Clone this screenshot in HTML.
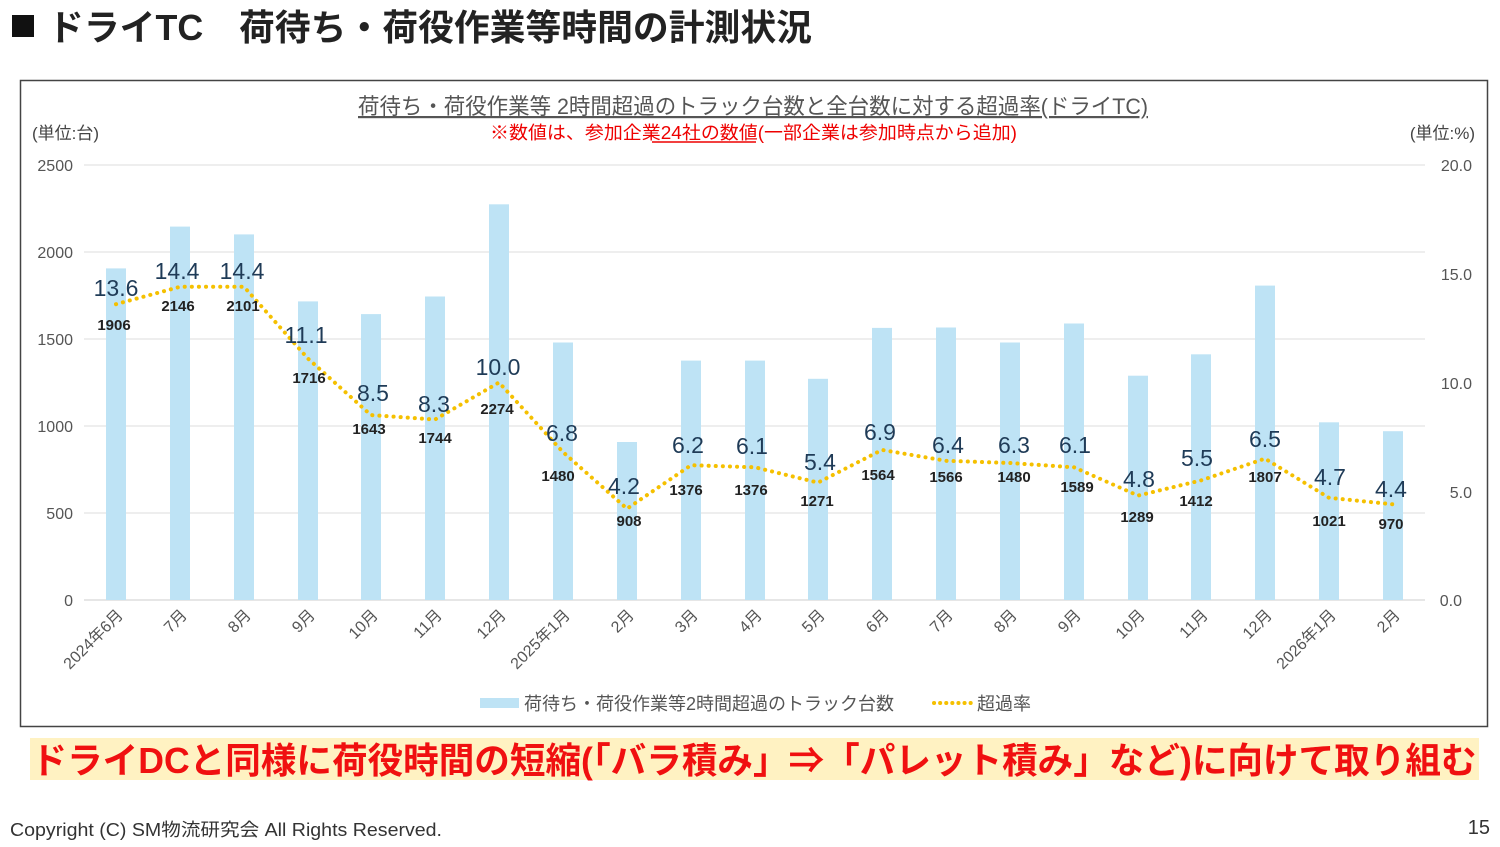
<!DOCTYPE html>
<html><head><meta charset="utf-8"><style>
body{margin:0;background:#fff;width:1500px;height:842px;overflow:hidden;font-family:"Liberation Sans","Noto Sans CJK JP",sans-serif}
</style></head><body>
<svg width="1500" height="842" xmlns="http://www.w3.org/2000/svg" font-family="'Liberation Sans','Noto Sans CJK JP',sans-serif">
<rect x="12" y="15" width="22" height="22" fill="#111"/>
<text x="48" y="40" font-size="36" font-weight="bold" fill="#222" textLength="764" lengthAdjust="spacingAndGlyphs">ドライTC　荷待ち・荷役作業等時間の計測状況</text>
<rect x="20.5" y="80.5" width="1467" height="646" fill="#fff" stroke="#444" stroke-width="1.5"/>
<text x="358" y="114" font-size="22" fill="#555" text-decoration="underline" textLength="790" lengthAdjust="spacingAndGlyphs">荷待ち・荷役作業等 2時間超過のトラック台数と全台数に対する超過率(ドライTC)</text>
<text x="490" y="139" font-size="18" fill="#e00" textLength="527" lengthAdjust="spacingAndGlyphs">※数値は、参加企業24社の数値(一部企業は参加時点から追加)</text>
<line x1="652" y1="142" x2="756" y2="142" stroke="#e00" stroke-width="1.5"/>
<text x="32" y="139" font-size="17" fill="#444">(単位:台)</text>
<text x="1475" y="139" font-size="17" fill="#444" text-anchor="end">(単位:%)</text>
<g stroke="#ddd" stroke-width="1">
<line x1="84" y1="165" x2="1425" y2="165"/><line x1="84" y1="252" x2="1425" y2="252"/><line x1="84" y1="339" x2="1425" y2="339"/><line x1="84" y1="426" x2="1425" y2="426"/><line x1="84" y1="513" x2="1425" y2="513"/><line x1="84" y1="600" x2="1425" y2="600" stroke="#ccc"/>
</g>
<g font-size="16" fill="#555" text-anchor="end">
<text x="73" y="171">2500</text><text x="73" y="258">2000</text><text x="73" y="345">1500</text><text x="73" y="432">1000</text><text x="73" y="519">500</text><text x="73" y="606">0</text>
</g>
<g font-size="16" fill="#555" text-anchor="end">
<text x="1472" y="171">20.0</text><text x="1472" y="280">15.0</text><text x="1472" y="389">10.0</text><text x="1472" y="498">5.0</text><text x="1462" y="606">0.0</text>
</g>
<g fill="#BEE3F5">
<rect x="106" y="268.4" width="20" height="331.6"/>
<rect x="170" y="226.6" width="20" height="373.4"/>
<rect x="234" y="234.4" width="20" height="365.6"/>
<rect x="298" y="301.4" width="20" height="298.6"/>
<rect x="361" y="314.1" width="20" height="285.9"/>
<rect x="425" y="296.5" width="20" height="303.5"/>
<rect x="489" y="204.3" width="20" height="395.7"/>
<rect x="553" y="342.5" width="20" height="257.5"/>
<rect x="617" y="442" width="20" height="158"/>
<rect x="681" y="360.6" width="20" height="239.4"/>
<rect x="745" y="360.6" width="20" height="239.4"/>
<rect x="808" y="378.8" width="20" height="221.2"/>
<rect x="872" y="327.9" width="20" height="272.1"/>
<rect x="936" y="327.5" width="20" height="272.5"/>
<rect x="1000" y="342.5" width="20" height="257.5"/>
<rect x="1064" y="323.5" width="20" height="276.5"/>
<rect x="1128" y="375.7" width="20" height="224.3"/>
<rect x="1191" y="354.3" width="20" height="245.7"/>
<rect x="1255" y="285.6" width="20" height="314.4"/>
<rect x="1319" y="422.3" width="20" height="177.7"/>
<rect x="1383" y="431.2" width="20" height="168.8"/>
</g>
<polyline fill="none" stroke="#F5C000" stroke-width="4" stroke-linecap="round" stroke-dasharray="0.1 7" points="116,304.2 180,286.8 244,286.8 308,358.6 371,415.1 435,419.5 499,382.5 563,452.1 627,508.7 691,465.2 755,467.3 818,482.6 882,449.9 946,460.8 1010,463 1074,467.3 1138,495.6 1201,480.4 1265,458.6 1329,497.8 1393,504.3"/>
<g font-size="23" fill="#1F3B57" text-anchor="middle">
<text x="116" y="296">13.6</text><text x="177" y="279">14.4</text><text x="242" y="279">14.4</text><text x="306" y="343">11.1</text><text x="373" y="401">8.5</text><text x="434" y="412">8.3</text><text x="498" y="375">10.0</text><text x="562" y="441">6.8</text><text x="624" y="494">4.2</text><text x="688" y="453">6.2</text><text x="752" y="454">6.1</text><text x="820" y="470">5.4</text><text x="880" y="440">6.9</text><text x="948" y="453">6.4</text><text x="1014" y="453">6.3</text><text x="1075" y="453">6.1</text><text x="1139" y="487">4.8</text><text x="1197" y="466">5.5</text><text x="1265" y="447">6.5</text><text x="1330" y="485">4.7</text><text x="1391" y="497">4.4</text>
</g>
<g font-size="15" font-weight="bold" fill="#222" text-anchor="middle">
<text x="114" y="330">1906</text><text x="178" y="311">2146</text><text x="243" y="311">2101</text><text x="309" y="383">1716</text><text x="369" y="434">1643</text><text x="435" y="443">1744</text><text x="497" y="414">2274</text><text x="558" y="481">1480</text><text x="629" y="526">908</text><text x="686" y="495">1376</text><text x="751" y="495">1376</text><text x="817" y="506">1271</text><text x="878" y="480">1564</text><text x="946" y="482">1566</text><text x="1014" y="482">1480</text><text x="1077" y="492">1589</text><text x="1137" y="522">1289</text><text x="1196" y="506">1412</text><text x="1265" y="482">1807</text><text x="1329" y="526">1021</text><text x="1391" y="529">970</text>
</g>
<g font-size="16" fill="#555" text-anchor="end">
<text transform="translate(124,616) rotate(-45)">2024年6月</text>
<text transform="translate(188,616) rotate(-45)">7月</text>
<text transform="translate(252,616) rotate(-45)">8月</text>
<text transform="translate(316,616) rotate(-45)">9月</text>
<text transform="translate(379,616) rotate(-45)">10月</text>
<text transform="translate(443,616) rotate(-45)">11月</text>
<text transform="translate(507,616) rotate(-45)">12月</text>
<text transform="translate(571,616) rotate(-45)">2025年1月</text>
<text transform="translate(635,616) rotate(-45)">2月</text>
<text transform="translate(699,616) rotate(-45)">3月</text>
<text transform="translate(763,616) rotate(-45)">4月</text>
<text transform="translate(826,616) rotate(-45)">5月</text>
<text transform="translate(890,616) rotate(-45)">6月</text>
<text transform="translate(954,616) rotate(-45)">7月</text>
<text transform="translate(1018,616) rotate(-45)">8月</text>
<text transform="translate(1082,616) rotate(-45)">9月</text>
<text transform="translate(1146,616) rotate(-45)">10月</text>
<text transform="translate(1209,616) rotate(-45)">11月</text>
<text transform="translate(1273,616) rotate(-45)">12月</text>
<text transform="translate(1337,616) rotate(-45)">2026年1月</text>
<text transform="translate(1401,616) rotate(-45)">2月</text>
</g>
<rect x="480" y="698" width="39" height="10" fill="#BEE3F5"/>
<text x="524" y="710" font-size="18" fill="#555">荷待ち・荷役作業等2時間超過のトラック台数</text>
<line x1="934" y1="703" x2="972" y2="703" stroke="#F5C000" stroke-width="4" stroke-linecap="round" stroke-dasharray="0.1 6"/>
<text x="977" y="710" font-size="18" fill="#555">超過率</text>
<rect x="30" y="738" width="1449" height="42" fill="#FFF2C2"/>
<text x="754" y="773" font-size="36" font-weight="bold" fill="#F01010" text-anchor="middle" textLength="1445" lengthAdjust="spacingAndGlyphs">ドライDCと同様に荷役時間の短縮(「バラ積み」⇒「パレット積み」など)に向けて取り組む</text>
<text x="10" y="836" font-size="18" fill="#333" textLength="432" lengthAdjust="spacingAndGlyphs">Copyright (C) SM物流研究会 All Rights Reserved.</text>
<text x="1490" y="834" font-size="20" fill="#333" text-anchor="end">15</text>
</svg>
</body></html>
